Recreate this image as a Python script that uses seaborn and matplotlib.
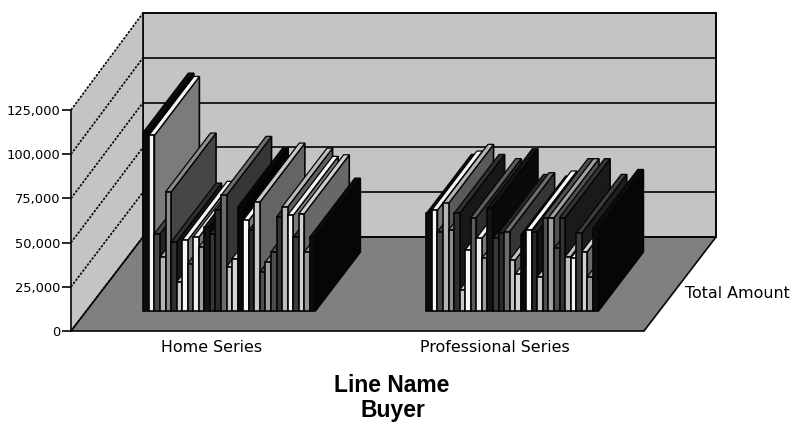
import matplotlib
matplotlib.use("Agg")
import matplotlib.pyplot as plt
from matplotlib.patches import Polygon
from matplotlib.colors import to_rgb
import pandas as pd
import seaborn as sns

sns.set_style("white")

series_names = ["Home Series", "Professional Series"]
buyers = [f"Buyer {i+1:02d}" for i in range(31)]
home_values = [101200, 99300, 43700, 30500, 67300, 39000, 16400, 40000, 26800, 41800, 36200,
               47500, 43700, 56900, 65400, 24900, 29600, 58800, 51300, 45600, 61600, 22100,
               27700, 33400, 53200, 58800, 54100, 41800, 55000, 33400, 41800]
pro_values = [55200, 57100, 44900, 60900, 45800, 55200, 11900, 34500, 52800, 41100, 29800,
              58400, 41100, 43900, 44900, 28800, 20700, 43000, 45800, 44900, 19400, 52800,
              52800, 35400, 52800, 30700, 29800, 43900, 33600, 19400, 46700]
buyer_grays = ["#0c0c0c", "#f6f6f6", "#484848", "#b4b4b4", "#8c8c8c", "#303030", "#c8c8c8", "#f6f6f6",
               "#5c5c5c", "#f0f0f0", "#9c9c9c", "#141414", "#383838", "#2c2c2c", "#6c6c6c", "#c4c4c4",
               "#d4d4d4", "#080808", "#fafafa", "#282828", "#c8c8c8", "#505050", "#a0a0a0", "#4c4c4c",
               "#343434", "#bcbcbc", "#f4f4f4", "#3c3c3c", "#d0d0d0", "#949494", "#0c0c0c"]
axis_ticks = [0, 25000, 50000, 75000, 100000, 125000]

W, H = 792, 425
GAP_SLOTS = 20
BAR_PX = 5.55
PX_PER_UNIT = 44.2 / 25000
n = len(buyers)

rows = []
for i, b in enumerate(buyers):
    rows.append({"slot": i, "buyer": b, "amount": home_values[i]})
for i, b in enumerate(buyers):
    rows.append({"slot": n + GAP_SLOTS + i, "buyer": b, "amount": pro_values[i]})
df = pd.DataFrame(rows)

fig = plt.figure(figsize=(W / 100, H / 100), dpi=100, facecolor="white")
DARK = "#050505"
LW = 1.2

# background: walls and floor in pixel coordinates
bg = fig.add_axes([0, 0, 1, 1], zorder=0)
bg.set_xlim(0, W)
bg.set_ylim(H, 0)
bg.axis("off")
bg.add_patch(Polygon([(143, 13), (716, 13), (716, 237), (143, 237)], fc="#c4c4c4", ec=DARK, lw=LW))
bg.add_patch(Polygon([(71, 331), (71, 110), (143, 13), (143, 237)], fc="#c4c4c4", ec="none"))
bg.add_patch(Polygon([(71, 331), (143, 237), (716, 237), (644, 331)], fc="#808080", ec=DARK, lw=LW))
for k in range(6):
    yf, yb = 331 - 44.2 * k, 237 - 44.8 * k
    bg.plot([71, 143], [yf, yb], color=DARK, lw=LW, ls=(0, (1.4, 0.9)))
    bg.plot([143, 716], [yb, yb], color=DARK, lw=LW)
bg.plot([143, 143], [13, 237], color=DARK, lw=LW)
bg.plot([716, 716], [13, 237], color=DARK, lw=LW)

tf = dict(family="DejaVu Sans", fontsize=11.4, color="#000000", ha="center", va="center")
bg.text(212, 348, series_names[0], **tf)
bg.text(495, 348, series_names[1], **tf)
bg.text(737, 294, "Total Amount", **tf)
bf = dict(family="Liberation Sans", fontsize=16.5, fontweight="bold", color="#000000", ha="center", va="center")
bg.text(392, 385, "Line Name", **bf)
bg.text(393, 411, "Buyer", **bf)

# value axis on the front-left edge
tk = fig.add_axes([71 / W, (H - 331) / H, 0.001, (331 - 110) / H], zorder=1)
tk.patch.set_alpha(0)
tk.set_ylim(0, 125000)
tk.set_yticks(axis_ticks)
tk.set_yticklabels([f"{v:,}" for v in axis_ticks], family="DejaVu Sans", fontsize=9.4, color="#000000")
tk.set_xticks([])
for s in ["top", "right", "bottom"]:
    tk.spines[s].set_visible(False)
tk.spines["left"].set_linewidth(LW)
tk.spines["left"].set_color(DARK)
tk.tick_params(axis="y", left=True, length=6.5, width=LW, color=DARK, pad=1)

# bars: front faces from seaborn, depth faces derived from them
ax = fig.add_axes([0, 0, 1, 1], zorder=2)
ax.patch.set_alpha(0)
sns.barplot(data=df, x="slot", y="amount", hue="buyer", hue_order=buyers,
            order=list(range(2 * n + GAP_SLOTS)), palette=dict(zip(buyers, buyer_grays)),
            dodge=False, width=1.0, edgecolor=DARK, linewidth=1.2, legend=False,
            saturation=1, ax=ax, errorbar=None)
ax.set_xlim(-0.5 - (143.3) / BAR_PX, -0.5 + (W - 143.3) / BAR_PX)
ax.set_ylim(-(H - 311) / PX_PER_UNIT, 311 / PX_PER_UNIT)
ax.axis("off")

depth_x = 45 / BAR_PX
depth_y = 59 / PX_PER_UNIT
bars = sorted([p for p in ax.patches if p.get_height() > 0], key=lambda p: p.get_x())
for i, p in enumerate(bars):
    x0, w, h = p.get_x(), p.get_width(), p.get_height()
    c = to_rgb(p.get_facecolor()[:3])
    side = tuple(v * 0.5 for v in c)
    z = 3 + i
    p.set_zorder(z + 0.2)
    ax.add_patch(Polygon([(x0 + w, 0), (x0 + w + depth_x, depth_y), (x0 + w + depth_x, h + depth_y), (x0 + w, h)],
                         fc=side, ec=DARK, lw=1.2, zorder=z, clip_on=False))
    ax.add_patch(Polygon([(x0, h), (x0 + depth_x, h + depth_y), (x0 + w + depth_x, h + depth_y), (x0 + w, h)],
                         fc=c, ec=DARK, lw=0.9, zorder=z + 0.1, clip_on=False))

fig.savefig("out.png", dpi=100)
